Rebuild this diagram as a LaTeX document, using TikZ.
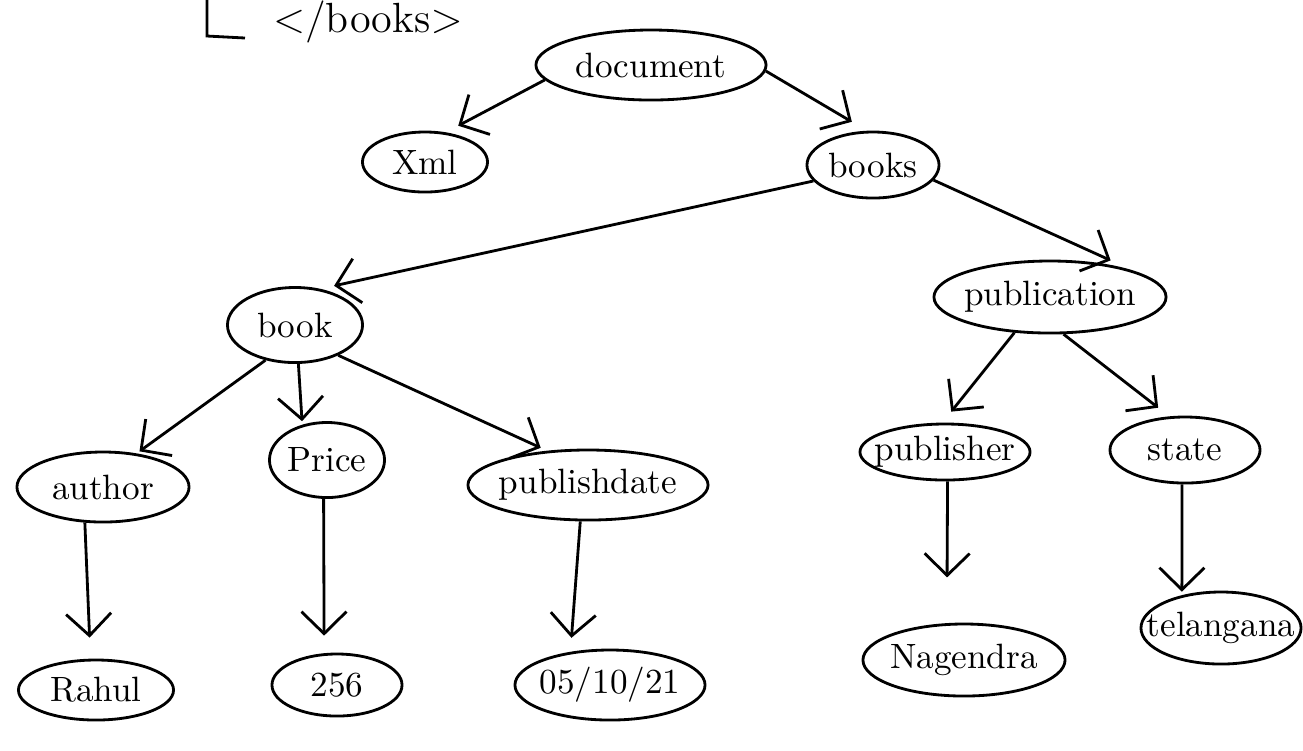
\documentclass[tikz,border=0pt]{standalone}
\usepackage{amsmath}
\usepackage{tikz}
\usetikzlibrary{shapes.geometric, arrows.meta}

\begin{document}
\begin{tikzpicture}[x=0.01cm, y=-0.01cm,
		tag/.style={draw, thick, ellipse, inner xsep=-3mm, inner ysep=0pt, font=\normalsize},
		link/.style={thick, -{Straight Barb[length=2.2mm, width=4.5mm]}, shorten >=4pt}]
			\useasboundingbox (0, 0) rectangle (1303, 750);
			\draw[thick] (207, 0) -- (207, 36) -- (245, 38);
			\node[font=\large] (closing) at (368, 22) {$<$/books$>$};
			\node[tag, minimum width=2.3cm, minimum height=0.7cm] (document) at (651, 65) {document};
			\node[tag, minimum width=1.25cm, minimum height=0.6cm] (xml) at (425, 162) {Xml};
			\node[tag, minimum width=1.32cm, minimum height=0.66cm] (books) at (873, 165) {books};
			\node[tag, minimum width=1.35cm, minimum height=0.75cm] (book) at (295, 325) {book};
			\node[tag, minimum width=2.32cm, minimum height=0.72cm] (publication) at (1050, 297) {publication};
			\node[tag, minimum width=1.72cm, minimum height=0.7cm] (author) at (103, 487) {author};
			\node[tag, minimum width=1.15cm, minimum height=0.75cm] (price) at (327, 460) {Price};
			\node[tag, minimum width=2.4cm, minimum height=0.7cm] (publishdate) at (588, 485) {publishdate};
			\node[tag, minimum width=1.7cm, minimum height=0.56cm] (publisher) at (945, 452) {publisher};
			\node[tag, minimum width=1.5cm, minimum height=0.66cm] (state) at (1185, 450) {state};
			\node[tag, minimum width=1.55cm, minimum height=0.6cm] (rahul) at (96, 690) {Rahul};
			\node[tag, minimum width=1.3cm, minimum height=0.62cm] (n256) at (337, 685) {256};
			\node[tag, minimum width=1.9cm, minimum height=0.7cm] (date) at (610, 685) {05/10/21};
			\node[tag, minimum width=2.02cm, minimum height=0.72cm] (nagendra) at (964, 660) {Nagendra};
			\node[tag, minimum width=1.6cm, minimum height=0.72cm] (telangana) at (1221, 628) {telangana};
			\path[link] (document.188) edge (xml.55);
			\path[link] (document.-3) edge[shorten >=5pt] (books.100);
			\path[link] (books.195) edge (book.55);
			\path[link] (books.-14) edge[shorten >=7pt] (publication.north east);
			\path[link] (book.-130) edge[shorten >=1pt] (author.45);
			\path[link] (book.-85) edge[shorten >=1pt] (price.125);
			\path[link] (book.-35) edge[shorten >=2pt] (publishdate.140);
			\path[link] (publication.-135) edge (publisher.95);
			\path[link] (publication.-70) edge (state.115);
			\path[link] (author.-117) edge[shorten >=6pt] (rahul.100);
			\path[link] (price.-95) edge[shorten >=5pt] (n256.112);
			\path[link] (publishdate.-102) edge (date.140);
			\path[link] (publisher.-85) edge[shorten >=13pt] (nagendra.115);
			\path[link] (state.-95) edge[shorten >=1pt] (telangana.140);
		\end{tikzpicture}
\end{document}
